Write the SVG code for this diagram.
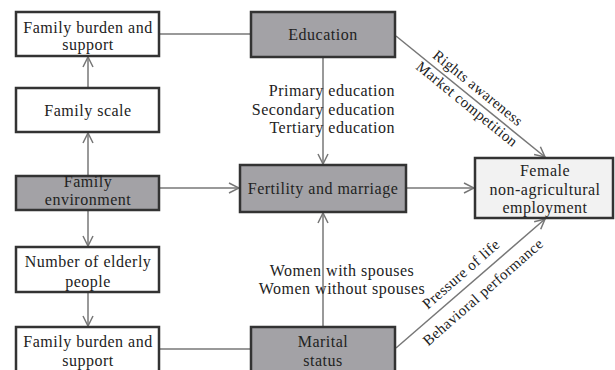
<svg xmlns="http://www.w3.org/2000/svg" width="615" height="370" viewBox="0 0 615 370">
<style>
.box{stroke:#333;stroke-width:2.5}
.w{fill:#fff}
.g{fill:#a3a2a6}
.l{fill:#f2f2f2}
text{font-family:"Liberation Serif","Times New Roman",serif;font-size:16px;fill:#222;letter-spacing:0.5px}
.c{text-anchor:middle}
.r{text-anchor:end}
.s{font-size:15px;letter-spacing:0.4px}
.ln{stroke:#777;stroke-width:1.5;fill:none}
</style>
<defs>
<marker id="a" viewBox="0 0 12 12" refX="11" refY="6" markerWidth="12" markerHeight="12" markerUnits="userSpaceOnUse" orient="auto">
<path d="M1,1 L11,6 L1,11" fill="none" stroke="#777" stroke-width="1.5"/>
</marker>
</defs>
<rect width="615" height="370" fill="#fff"/>
<g id="connectors">
<line class="ln" x1="159" y1="34" x2="251" y2="34"/>
<line class="ln" x1="159" y1="349" x2="251" y2="349"/>
<line class="ln" x1="88" y1="88" x2="88" y2="57" marker-end="url(#a)"/>
<line class="ln" x1="88" y1="176" x2="88" y2="133" marker-end="url(#a)"/>
<line class="ln" x1="88" y1="211" x2="88" y2="246" marker-end="url(#a)"/>
<line class="ln" x1="88" y1="293" x2="88" y2="326" marker-end="url(#a)"/>
<line class="ln" x1="159" y1="188" x2="239" y2="188" marker-end="url(#a)"/>
<line class="ln" x1="407" y1="188" x2="474" y2="188" marker-end="url(#a)"/>
<line class="ln" x1="323" y1="58" x2="323" y2="164" marker-end="url(#a)"/>
<line class="ln" x1="323" y1="326" x2="323" y2="213" marker-end="url(#a)"/>
<line class="ln" x1="396" y1="36" x2="545" y2="157" marker-end="url(#a)"/>
<line class="ln" x1="396" y1="348" x2="545" y2="219" marker-end="url(#a)"/>
<text class="r" x="395" y="96">Primary education</text>
<text class="r" x="395" y="115">Secondary education</text>
<text class="r" x="395" y="133">Tertiary education</text>
<text class="c" x="342" y="276">Women with spouses</text>
<text class="c" x="342" y="294">Women without spouses</text>
<text class="c s" transform="translate(478,88) rotate(39.1)" y="5">Rights awareness</text>
<text class="c s" transform="translate(467,104) rotate(39.1)" y="5">Market competition</text>
<text class="c s" transform="translate(461,274) rotate(-41.1)" y="5">Pressure of life</text>
<text class="c s" transform="translate(483,292) rotate(-41.1)" y="5">Behavioral performance</text>
</g>
<g id="fb1"><rect class="box w" x="16" y="12" width="143" height="44"/><text class="c" x="88" y="33">Family burden and</text><text class="c" x="88" y="50">support</text></g>
<g id="fscale"><rect class="box w" x="16" y="88" width="143" height="44"/><text class="c" x="88" y="116">Family scale</text></g>
<g id="fenv"><rect class="box g" x="16" y="176" width="143" height="34"/><text class="c" x="88" y="187">Family</text><text class="c" x="88" y="205">environment</text></g>
<g id="elderly"><rect class="box w" x="16" y="247" width="143" height="45"/><text class="c" x="88" y="267">Number of elderly</text><text class="c" x="88" y="287">people</text></g>
<g id="fb2"><rect class="box w" x="16" y="327" width="143" height="55"/><text class="c" x="88" y="347">Family burden and</text><text class="c" x="88" y="366">support</text></g>
<g id="edu"><rect class="box g" x="251" y="12" width="144" height="45"/><text class="c" x="323" y="40">Education</text></g>
<g id="fert"><rect class="box g" x="240" y="165" width="166" height="47"/><text class="c" x="323" y="194">Fertility and marriage</text></g>
<g id="marital"><rect class="box g" x="251" y="327" width="144" height="55"/><text class="c" x="323" y="347">Marital</text><text class="c" x="323" y="366">status</text></g>
<g id="female"><rect class="box l" x="475" y="158" width="138" height="60"/><text class="c" x="545" y="176">Female</text><text class="c" x="545" y="195">non-agricultural</text><text class="c" x="545" y="213">employment</text></g>
</svg>
